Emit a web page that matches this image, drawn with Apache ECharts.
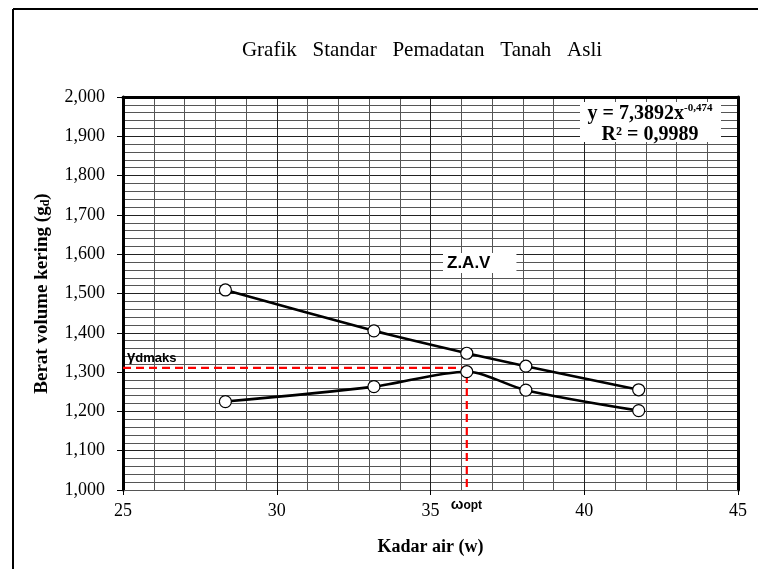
<!DOCTYPE html>
<html>
<head>
<meta charset="utf-8">
<script src="https://cdn.jsdelivr.net/npm/echarts@6/dist/echarts.min.js"></script>
<style>
html,body{margin:0;padding:0;background:#fff;}
#chart{width:758px;height:569px;}
</style>
</head>
<body>
<div id="chart"></div>
<script>
// ---- data ----
var titleText = 'Grafik   Standar   Pemadatan   Tanah   Asli';
var xAxisName = 'Kadar air (w)';
var moisture = [28.33, 33.16, 36.18, 38.10, 41.77];          // w (%)
var dryDensity = [1.225, 1.263, 1.301, 1.254, 1.202];        // compaction curve
var zavDensity = [1.509, 1.405, 1.348, 1.315, 1.255];        // zero air voids line
var gammaDmaks = 1.311;
var omegaOpt = 36.18;
var xTicks = [25, 30, 35, 40, 45];
var yTicks = [1.0, 1.1, 1.2, 1.3, 1.4, 1.5, 1.6, 1.7, 1.8, 1.9, 2.0];
var equationLine1 = 'y = 7,3892x';
var equationExp = '-0,474';
var equationLine2 = 'R² = 0,9989';
var zavLabel = 'Z.A.V';

function pairs(xs, ys) { return xs.map(function (x, i) { return [x, ys[i]]; }); }

var serif = '"Liberation Serif", "Times New Roman", serif';
var sans = '"Liberation Sans", Arial, sans-serif';

var chart = echarts.init(document.getElementById('chart'), null, {renderer: 'canvas'});

var xMin = xTicks[0], xMax = xTicks[xTicks.length - 1];
var yMin = yTicks[0], yMax = yTicks[yTicks.length - 1];

var option = {
  animation: false,
  backgroundColor: '#fff',
  title: {
    text: titleText,
    left: 417, top: 35, textAlign: 'center',
    textStyle: {fontFamily: serif, fontSize: 21, fontWeight: 'normal', color: '#000'}
  },
  grid: {left: 123, top: 97, right: 20, bottom: 79, containLabel: false},
  xAxis: [{
    type: 'value', min: xMin, max: xMax, interval: 5,
    name: xAxisName, nameLocation: 'middle', nameGap: 48,
    nameTextStyle: {fontFamily: serif, fontSize: 18, fontWeight: 'bold', color: '#000'},
    axisLine: {show: true, onZero: false, lineStyle: {color: '#555', width: 1}},
    axisTick: {show: true, inside: false, length: 5, lineStyle: {color: '#000'}},
    axisLabel: {fontFamily: serif, fontSize: 18, color: '#000', margin: 12},
    splitLine: {show: false}
  }, {
    // top frame + fine vertical grid (every 1 unit)
    type: 'value', position: 'top', min: xMin, max: xMax, interval: 5,
    axisLine: {show: true, onZero: false, lineStyle: {color: '#000', width: 3}},
    axisTick: {show: false}, axisLabel: {show: false},
    splitLine: {show: true, lineStyle: {color: '#222', width: 1}},
    minorTick: {show: false, splitNumber: 5},
    minorSplitLine: {show: true, lineStyle: {color: '#555', width: 1}}
  }],
  yAxis: [{
    type: 'value', min: yMin, max: yMax, interval: 0.1,
    name: 'Berat volume kering (g{sub|d})', nameLocation: 'middle', nameGap: 71,
    nameTextStyle: {fontFamily: serif, fontSize: 19, fontWeight: 'bold', color: '#000',
      rich: {sub: {fontFamily: serif, fontSize: 12, fontWeight: 'bold', color: '#000', verticalAlign: 'bottom', padding: [7, 0, 0, 0]}}},
    axisLine: {show: true, onZero: false, lineStyle: {color: '#000', width: 3}},
    axisTick: {show: true, inside: false, length: 6, lineStyle: {color: '#000'}},
    axisLabel: {fontFamily: serif, fontSize: 18, color: '#000', margin: 18,
      formatter: function (v) { return v.toFixed(3).replace('.', ','); }},
    splitLine: {show: false}
  }, {
    // right frame + fine horizontal grid (every 0.02)
    type: 'value', position: 'right', min: yMin, max: yMax, interval: 0.1,
    axisLine: {show: true, onZero: false, lineStyle: {color: '#000', width: 3}},
    axisTick: {show: false}, axisLabel: {show: false},
    splitLine: {show: true, lineStyle: {color: '#222', width: 1}},
    minorTick: {show: false, splitNumber: 5},
    minorSplitLine: {show: true, lineStyle: {color: '#555', width: 1}}
  }],
  series: [{
    name: 'Z.A.V', type: 'line', data: pairs(moisture, zavDensity),
    smooth: 0.2, symbol: 'circle', symbolSize: 12,
    lineStyle: {color: '#000', width: 2.6},
    itemStyle: {color: '#fff', borderColor: '#000', borderWidth: 1.2},
    z: 5
  }, {
    name: 'Pemadatan', type: 'line', data: pairs(moisture, dryDensity),
    smooth: 0.3, symbol: 'circle', symbolSize: 12,
    lineStyle: {color: '#000', width: 2.6},
    itemStyle: {color: '#fff', borderColor: '#000', borderWidth: 1.2},
    z: 5
  }, {
    name: 'opt', type: 'line',
    data: [[xMin, gammaDmaks], [omegaOpt, gammaDmaks], [omegaOpt, yMin]],
    symbol: 'none', lineStyle: {color: '#ff0000', width: 2.2, type: [8, 5]},
    z: 4
  }]
};
chart.setOption(option);

var pOpt = chart.convertToPixel({gridIndex: 0}, [omegaOpt, yMin]);
var pG = chart.convertToPixel({gridIndex: 0}, [xMin, gammaDmaks]);

chart.setOption({
  graphic: [
    // outer chart frame
    {type: 'line', shape: {x1: 13, y1: 9, x2: 758, y2: 9}, style: {stroke: '#000', lineWidth: 2}},
    {type: 'line', shape: {x1: 13, y1: 9, x2: 13, y2: 569}, style: {stroke: '#000', lineWidth: 2}},
    // equation box
    {type: 'rect', shape: {x: 580, y: 102, width: 141, height: 40}, style: {fill: '#fff'}, z: 50},
    {type: 'text', x: 650, y: 103, z: 51,
      style: {text: '{b|' + equationLine1 + '}{s|' + equationExp + '}\n{b|' + equationLine2 + '}',
        align: 'center', verticalAlign: 'top',
        rich: {
          b: {fontFamily: serif, fontSize: 20, fontWeight: 'bold', fill: '#000', lineHeight: 21},
          s: {fontFamily: serif, fontSize: 11, fontWeight: 'bold', fill: '#000', verticalAlign: 'top', lineHeight: 21, padding: [0, 0, 8, 0]}
        }}},
    // Z.A.V label
    {type: 'text', x: 443, y: 263, z: 51,
      style: {text: zavLabel, fontFamily: sans, fontSize: 17, fontWeight: 'bold', fill: '#000',
        verticalAlign: 'middle', backgroundColor: '#fff', padding: [2, 26, 1, 4]}},
    // gamma dmaks
    {type: 'text', x: pG[0] + 4, y: pG[1] - 3, z: 51,
      style: {text: '{g|γ}{s|dmaks}', verticalAlign: 'bottom',
        rich: {
          g: {fontFamily: sans, fontSize: 15, fontWeight: 'bold', fill: '#000'},
          s: {fontFamily: sans, fontSize: 13, fontWeight: 'bold', fill: '#000', verticalAlign: 'bottom'}
        }}},
    // omega opt
    {type: 'text', x: pOpt[0] - 16, y: pOpt[1] + 7, z: 51,
      style: {text: '{g|ω}{s|opt}', verticalAlign: 'top',
        rich: {
          g: {fontFamily: sans, fontSize: 15, fontWeight: 'bold', fill: '#000'},
          s: {fontFamily: sans, fontSize: 12, fontWeight: 'bold', fill: '#000', verticalAlign: 'bottom'}
        }}}
  ]
});
</script>
</body>
</html>
